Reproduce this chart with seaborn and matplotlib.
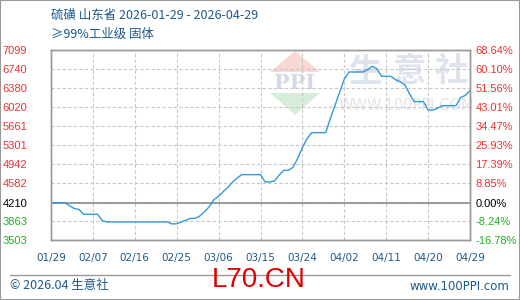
import matplotlib
matplotlib.use("Agg")
import matplotlib.pyplot as plt
import matplotlib.dates as mdates
from matplotlib.lines import Line2D
from matplotlib.patches import Polygon, Rectangle
import numpy as np
import pandas as pd
import seaborn as sns

# ---- data ----
day_offsets = [0, 3, 4, 5, 6, 7, 10, 11, 12, 25, 26, 27, 28, 29, 30, 31, 32, 33, 34, 35,
               36, 37, 38, 39, 40, 41, 45, 46, 47, 48, 49, 50, 51, 52, 53, 54, 55, 56, 59,
               60, 61, 62, 63, 64, 67, 68, 69, 70, 71, 73, 74, 75, 76, 77, 78, 80, 81, 82,
               83, 84, 87, 88, 89, 90]
prices = [4210, 4210, 4150, 4100, 4080, 3990, 3990, 3870, 3844, 3844, 3807, 3810, 3844, 3880,
          3913, 3913, 3960, 4040, 4134, 4267, 4330, 4420, 4500, 4600, 4680, 4740, 4740, 4601,
          4601, 4620, 4730, 4822, 4822, 4880, 5050, 5250, 5420, 5535, 5535, 5800, 6050, 6300,
          6550, 6683, 6683, 6727, 6790, 6746, 6601, 6601, 6540, 6500, 6440, 6270, 6122, 6122,
          5963, 5963, 5994, 6045, 6045, 6200, 6240, 6330]
base_price = 4210
left_ticks = [7099, 6740, 6380, 6020, 5661, 5301, 4942, 4582, 4210, 3863, 3503]
right_labels = ["68.64%", "60.10%", "51.56%", "43.01%", "34.47%", "25.93%", "17.39%",
                "8.85%", "0.00%", "-8.24%", "-16.78%"]
x_tick_offsets = [0, 9, 18, 27, 36, 45, 54, 63, 72, 81, 90]
x_tick_labels = ["01/29", "02/07", "02/16", "02/25", "03/06", "03/15", "03/24",
                 "04/02", "04/11", "04/20", "04/29"]
title_line1 = "硫磺 山东省 2026-01-29 - 2026-04-29"
title_line2 = "≥99%工业级 固体"

start = pd.Timestamp("2026-01-29")
df = pd.DataFrame({"date": start + pd.to_timedelta(day_offsets, unit="D"), "price": prices})

sns.set_style("white")
plt.rcParams["font.family"] = ["Noto Sans CJK SC", "DejaVu Sans"]

W, H = 520, 300
fig = plt.figure(figsize=(5.2, 3.0), dpi=100)
ax = fig.add_axes([51 / W, 60 / H, 419 / W, 190 / H])

def fx(x):
    return x / W

def fy(y):
    return 1 - y / H

BLUE_TXT = "#1d5a8c"
RED = "#f03030"
GREEN = "#20b020"
GRID = "#c8c8c8"
FRAME = "#999999"

sns.lineplot(data=df, x="date", y="price", ax=ax, color="#3398dc", linewidth=1.0, zorder=4)

ax.set_xlim(start, start + pd.Timedelta(days=90))
ax.set_ylim(3503, 7099)
ax.set_xlabel("")
ax.set_ylabel("")

# grid
xt = [start + pd.Timedelta(days=d) for d in x_tick_offsets]
ax.set_xticks(xt)
ax.set_xticklabels(x_tick_labels)
ax.set_yticks(left_ticks)
ax.set_yticklabels([str(v) for v in left_ticks])
ax.grid(True, color=GRID, linestyle=(0, (3, 2)), linewidth=0.8)
ax.set_axisbelow(True)
ax.axhline(base_price, color=FRAME, linewidth=1.4, zorder=3)

ax.tick_params(axis="x", length=0, pad=9, labelsize=7.5, labelcolor=BLUE_TXT)
ax.tick_params(axis="y", length=0, pad=17, labelsize=8)
for lab in ax.get_xticklabels():
    lab.set_fontfamily("DejaVu Sans")
for v, lab in zip(left_ticks, ax.get_yticklabels()):
    lab.set_fontfamily("Liberation Sans")
    lab.set_color(RED if v > base_price else ("black" if v == base_price else GREEN))

ax2 = ax.twinx()
ax2.set_ylim(3503, 7099)
ax2.set_yticks(left_ticks)
ax2.set_yticklabels(right_labels)
ax2.tick_params(axis="y", length=0, pad=4, labelsize=8)
for v, lab in zip(left_ticks, ax2.get_yticklabels()):
    lab.set_fontfamily("Liberation Sans")
    lab.set_color(RED if v > base_price else ("black" if v == base_price else GREEN))

for a in (ax, ax2):
    for s in a.spines.values():
        s.set_color(FRAME)
        s.set_linewidth(1.0)

# watermark
tf = fig.transFigure
ax.add_patch(Polygon([(fx(295), fy(51)), (fx(270), fy(72)), (fx(320), fy(72))], closed=True,
                     transform=tf, facecolor="#f8d8d2", edgecolor="none", zorder=0.1))
ax.add_patch(Polygon([(fx(270), fy(93)), (fx(320), fy(93)), (fx(295), fy(115))], closed=True,
                     transform=tf, facecolor="#d6eed9", edgecolor="none", zorder=0.1))
ax.text(fx(295), fy(83), "PPI", transform=tf, ha="center", va="center", fontsize=15,
        fontweight="bold", family="DejaVu Serif", color="#d2d9e8", zorder=0.2)
for cx, ch in zip([366, 409, 451], "生意社"):
    ax.text(fx(cx), fy(72), ch, transform=tf, ha="center", va="center", fontsize=24,
            fontweight="bold", color="#dfe3ee", zorder=0.2)
ax.text(fx(406), fy(106), "WWW.100PPI.COM", transform=tf, ha="center", va="center",
        fontsize=10.5, family="DejaVu Sans", color="#e4e4e4", zorder=0.2)

# titles
fig.text(fx(51), fy(15), title_line1, ha="left", va="center", fontsize=9, color=BLUE_TXT)
fig.text(fx(51), fy(34), title_line2, ha="left", va="center", fontsize=9, color=BLUE_TXT)

# footer
fig.add_artist(Line2D([fx(10), fx(510)], [fy(275), fy(275)], color=FRAME, linewidth=1.0))
fig.text(fx(10), fy(286), "© 2026.04 生意社", ha="left", va="center", fontsize=9, color=BLUE_TXT)
fig.text(fx(509), fy(286), "www.100PPI.com", ha="right", va="center", fontsize=8.5,
         family="DejaVu Sans", color=BLUE_TXT)
fig.text(fx(259), fy(280), "L70.CN", ha="center", va="center", fontsize=20,
         family="Liberation Sans", color="#e00000")

fig.add_artist(Rectangle((0, 0), 1, 1, transform=tf, fill=False, edgecolor=FRAME, linewidth=1.5))

fig.savefig("out.png", dpi=100)
